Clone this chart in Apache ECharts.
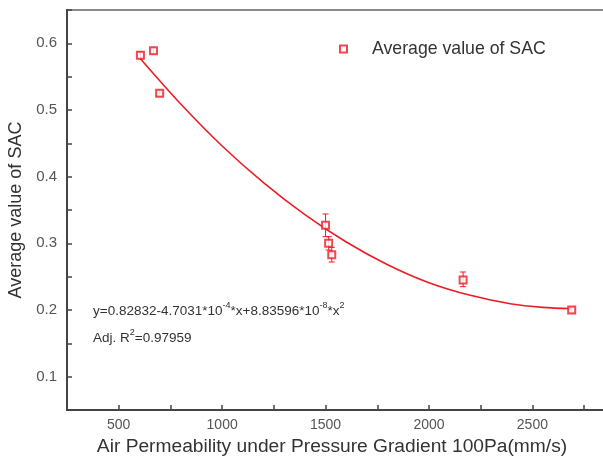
<!DOCTYPE html>
<html><head><meta charset="utf-8">
<script src="https://cdn.jsdelivr.net/npm/echarts@6/dist/echarts.min.js"></script>
<style>html,body{margin:0;padding:0;background:#fff}#c{width:603px;height:458px}</style>
</head><body><div id="c"></div>
<script>
// Measured points (x: air permeability, y: average SAC)
const pointX = [605, 668, 698, 1500, 1515, 1530, 2165, 2690];
const pointY = [0.582, 0.589, 0.525, 0.327, 0.300, 0.283, 0.245, 0.200];
const errLow = [0.577, 0.585, 0.521, 0.310, 0.290, 0.272, 0.235, 0.196];
const errHigh = [0.587, 0.593, 0.529, 0.344, 0.310, 0.294, 0.257, 0.204];
// Fitted curve
const fitX = [605, 800, 1000, 1200, 1400, 1600, 1800, 2000, 2200, 2400, 2550, 2690];
const fitY = [0.577, 0.509, 0.446, 0.391, 0.343, 0.302, 0.268, 0.241, 0.222, 0.209, 0.204, 0.202];
const seriesName = 'Average value of SAC';
const xTitle = 'Air Permeability under Pressure Gradient 100Pa(mm/s)';
const yTitle = 'Average value of SAC';

const red = '#ee1c25';
const font = 'Liberation Sans, Arial, sans-serif';
const chart = echarts.init(document.getElementById('c'));
const rich = {
  n: { fontFamily: font, fontSize: 13.5, fill: '#333', verticalAlign: 'bottom' },
  s: { fontFamily: font, fontSize: 9, fill: '#333', verticalAlign: 'top', padding: [0, 0, 8, 0] }
};
chart.setOption({
  animation: false,
  backgroundColor: '#fff',
  grid: { left: 67, top: 10, right: -8, bottom: 48, outerBoundsMode: 'none', containLabel: false,
          show: true, borderColor: '#8a8a8a', borderWidth: 2 },
  legend: {
    data: [{ name: seriesName, icon: 'emptyRect' }],
    left: 334, top: 35, itemWidth: 7, itemHeight: 7,
    textStyle: { fontFamily: font, fontSize: 17.7, color: '#333', padding: [0, 0, 0, 20] }
  },
  xAxis: {
    type: 'value', min: 250, max: 2880, interval: 250,
    name: xTitle, nameLocation: 'middle', nameGap: 17,
    nameTextStyle: { fontFamily: font, fontSize: 19.2, color: '#333', padding: [0, 14, 0, 0] },
    axisLine: { lineStyle: { color: '#444', width: 2 } },
    axisTick: { inside: true, length: 5, lineStyle: { color: '#444', width: 1.5 } },
    axisLabel: { fontFamily: font, fontSize: 14, color: '#555', margin: 8,
      formatter: v => (v % 500 === 0 ? String(v) : '') },
    splitLine: { show: false }
  },
  yAxis: {
    type: 'value', min: 0.05, max: 0.65, interval: 0.05,
    name: yTitle, nameLocation: 'middle', nameGap: 31,
    nameTextStyle: { fontFamily: font, fontSize: 18, color: '#333' },
    axisLine: { lineStyle: { color: '#444', width: 2 } },
    axisTick: { inside: true, length: 5, lineStyle: { color: '#444', width: 1.5 } },
    axisLabel: { fontFamily: font, fontSize: 15, color: '#555', margin: 10,
      formatter: v => (Math.round(v * 100) % 10 === 0 ? v.toFixed(1) : '') },
    splitLine: { show: false }
  },
  series: [
    {
      type: 'line', name: 'fit', data: fitX.map((x, i) => [x, fitY[i]]),
      smooth: 0.3, showSymbol: false, symbol: 'none',
      lineStyle: { color: red, width: 1.6 }, z: 2, silent: true
    },
    {
      type: 'scatter', name: seriesName, data: pointX.map((x, i) => [x, pointY[i]]),
      symbol: 'emptyRect', symbolSize: 7,
      itemStyle: { color: red, borderColor: red, borderWidth: 1 }, z: 4
    },
    {
      type: 'custom', name: 'err', data: pointX.map((x, i) => [x, errLow[i], errHigh[i]]),
      renderItem: (params, api) => {
        const lo = api.coord([api.value(0), api.value(1)]);
        const hi = api.coord([api.value(0), api.value(2)]);
        const w = 3;
        const st = { stroke: red, lineWidth: 1 };
        return { type: 'group', children: [
          { type: 'line', shape: { x1: lo[0], y1: lo[1], x2: hi[0], y2: hi[1] }, style: st },
          { type: 'line', shape: { x1: lo[0] - w, y1: lo[1], x2: lo[0] + w, y2: lo[1] }, style: st },
          { type: 'line', shape: { x1: hi[0] - w, y1: hi[1], x2: hi[0] + w, y2: hi[1] }, style: st }
        ]};
      }, z: 3
    }
  ],
  graphic: [
    { type: 'text', left: 93, top: 301, style: {
      text: '{n|y=0.82832-4.7031*10}{s|-4}{n|*x+8.83596*10}{s|-8}{n|*x}{s|2}', rich } },
    { type: 'text', left: 93, top: 328, style: {
      text: '{n|Adj. R}{s|2}{n|=0.97959}', rich } }
  ]
});
</script></body></html>
